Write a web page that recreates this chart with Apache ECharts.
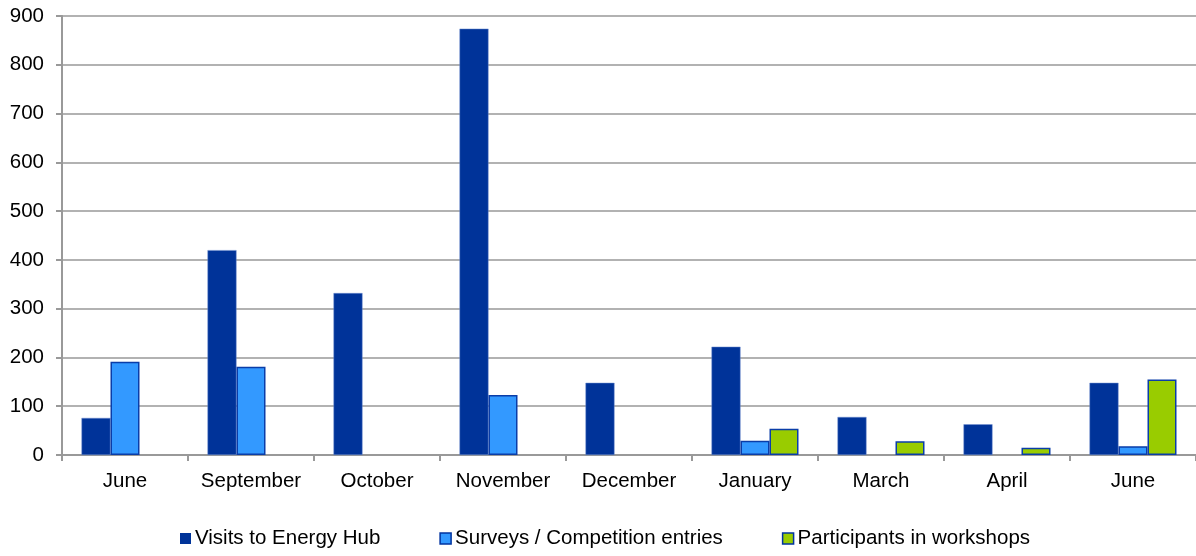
<!DOCTYPE html>
<html><head><meta charset="utf-8">
<script src="https://cdn.jsdelivr.net/npm/echarts@6/dist/echarts.min.js"></script>
<style>html,body{margin:0;padding:0;background:#fff}#c{width:1196px;height:556px}</style>
</head><body><div id="c"></div>
<script>
const categories = ['June','September','October','November','December','January','March','April','June'];
const visits = [76, 420, 332, 874, 148, 222, 78, 63, 148];
const surveys = [191, 181, null, 123, null, 29, null, null, 18];
const workshops = [null, null, null, null, null, 54, 28, 15, 155];
const seriesNames = ['Visits to Energy Hub','Surveys / Competition entries','Participants in workshops'];
const colors = ['#003399','#3399ff','#99cc00'];
const font = 'Liberation Sans, Arial, sans-serif';
const chart = echarts.init(document.getElementById('c'));
const mk = (name, data, color, border, bw) => ({
  name, type:'bar', data, barWidth: 29, barGap: '0%',
  itemStyle:{color, borderColor: border, borderWidth: bw},
  animation:false
});
chart.setOption({
  animation:false,
  grid:{left:62, right:0, top:16, bottom:101, containLabel:false},
  legend:{bottom:2, left:175, itemWidth:11, itemHeight:11, itemGap:59,
    icon:'rect', textStyle:{fontFamily:font, fontSize:20.5, color:'#000', padding:[0,0,0,-1]},
    data: seriesNames.map((n,i)=>({name:n, itemStyle:{borderColor:'#0033a0', borderWidth: i===0?0:1.5}}))},
  xAxis:{type:'category', data:categories,
    axisLine:{lineStyle:{color:'#999', width:2}},
    axisTick:{show:true, interval:0, length:6, lineStyle:{color:'#999', width:2}},
    axisLabel:{interval:0, fontFamily:font, fontSize:20.5, color:'#000', margin:16}},
  yAxis:{type:'value', min:0, max:900, interval:100,
    axisLine:{show:true, lineStyle:{color:'#999', width:2}},
    axisTick:{show:true, length:6, lineStyle:{color:'#999', width:2}},
    splitLine:{lineStyle:{color:'#999', width:1.5}},
    axisLabel:{fontFamily:font, fontSize:20.5, color:'#000', margin:18}},
  series:[
    mk(seriesNames[0], visits, colors[0], '#6f8fd0', 0.5),
    mk(seriesNames[1], surveys, colors[1], '#0a3da8', 1.5),
    mk(seriesNames[2], workshops, colors[2], '#0a3da8', 1.5)
  ]
});
</script></body></html>
